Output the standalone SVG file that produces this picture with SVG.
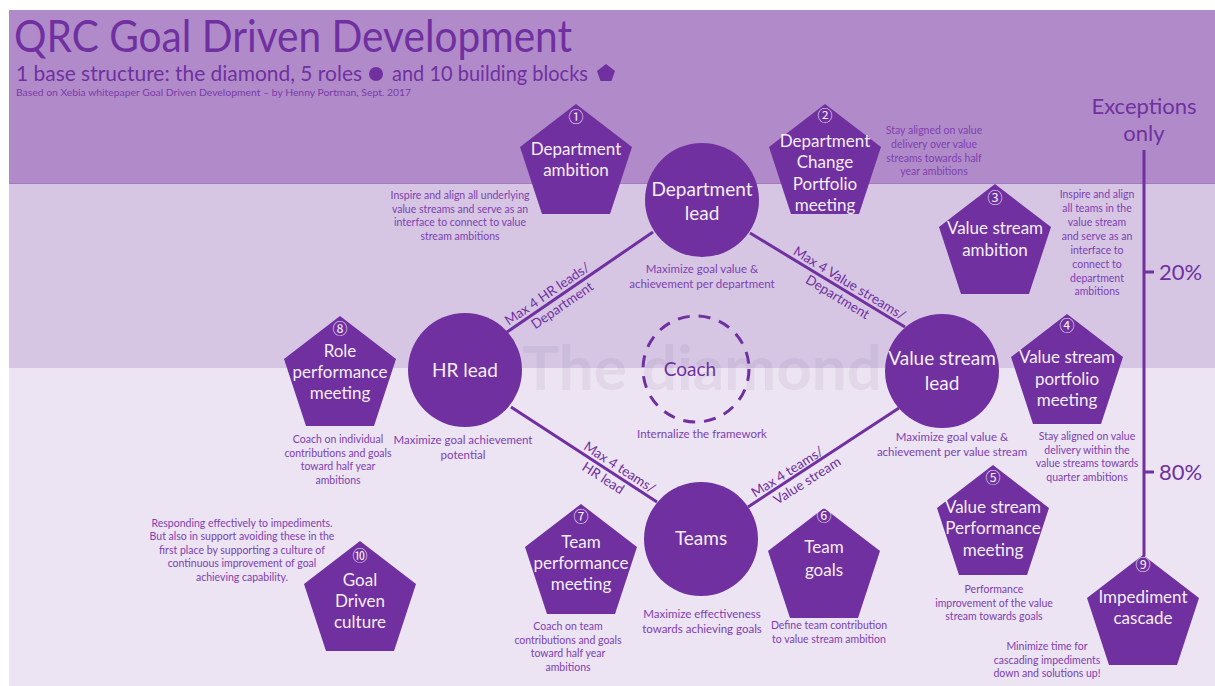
<svg xmlns="http://www.w3.org/2000/svg" xmlns:xlink="http://www.w3.org/1999/xlink" width="1215" height="686" viewBox="0 0 1215 686">
  <style>
    text { font-family: Lato, "Liberation Sans", "Noto Sans CJK SC", sans-serif; }
    .title { font-size: 44px; fill: #7030a0; }
    .sub { font-size: 22px; fill: #7030a0; }
    .credit { font-size: 10px; fill: #7a3aaa; }
    .shape { fill: #7030a0; }
    .lbl { font-size: 17px; fill: #f4eef8; text-anchor: middle; }
    .num { font-size: 15px; fill: #f4eef8; text-anchor: middle; font-family: "Noto Sans CJK SC", "DejaVu Sans", sans-serif; }
    .role { font-size: 19px; fill: #f4eef8; text-anchor: middle; }
    .d { font-size: 10.5px; fill: #7e3fb0; text-anchor: middle; }
    .rd { font-size: 11.5px; fill: #7e3fb0; text-anchor: middle; }
    .ln { stroke: #7030a0; stroke-width: 3; fill: none; }
    .ll { font-size: 13.5px; fill: #7030a0; text-anchor: middle; }
    .scale { font-size: 22px; fill: #7030a0; }
  </style>
  <defs>
    <path id="pent" d="M0,-60 L56,-17 L34,50 L-34,50 L-56,-17 Z"/>
  </defs>

  <!-- background bands -->
  <rect x="0" y="0" width="1215" height="686" fill="#ffffff"/>
  <rect x="9" y="10" width="1206" height="174" fill="#b18bc9"/>
  <rect x="9" y="184" width="1206" height="184" fill="#d6c6e4"/>
  <rect x="9" y="368" width="1206" height="318" fill="#ece3f3"/>
  <line x1="9" y1="183.5" x2="1215" y2="183.5" stroke="#a47abf" stroke-width="1"/>

  <!-- header -->
  <g id="header">
    <text class="title" x="14" y="52" textLength="558" lengthAdjust="spacingAndGlyphs">QRC Goal Driven Development</text>
    <text class="sub" x="16" y="81" textLength="346" lengthAdjust="spacingAndGlyphs">1 base structure: the diamond, 5 roles</text>
    <circle class="shape" cx="376" cy="74" r="7"/>
    <text class="sub" x="392" y="81" textLength="196" lengthAdjust="spacingAndGlyphs">and 10 building blocks</text>
    <path class="shape" d="M606,64 L615,71 L611.5,81 L600.5,81 L597,71 Z"/>
    <text class="credit" x="16" y="96" textLength="395" lengthAdjust="spacingAndGlyphs">Based on Xebia whitepaper Goal Driven Development – by Henny Portman, Sept. 2017</text>
  </g>

  <!-- watermark -->
  <text x="702" y="390" font-size="62" font-weight="bold" text-anchor="middle" fill="#5a3a78" fill-opacity="0.07">The diamond</text>

  <!-- connectors of the diamond -->
  <g id="connectors">
    <line class="ln" x1="507" y1="332" x2="653" y2="232"/>
    <line class="ln" x1="750" y1="233" x2="905" y2="327"/>
    <line class="ln" x1="511" y1="407" x2="657" y2="502"/>
    <line class="ln" x1="748" y1="507" x2="899" y2="408"/>
    <g transform="translate(552,301) rotate(-34.4)">
      <text class="ll" x="0" y="-4">Max 4 HR leads/</text>
      <text class="ll" x="6" y="14">Department</text>
    </g>
    <g transform="translate(845,290.5) rotate(31.2)">
      <text class="ll" x="0" y="-4">Max 4 Value streams/</text>
      <text class="ll" x="-3" y="14">Department</text>
    </g>
    <g transform="translate(615,474.5) rotate(33)">
      <text class="ll" x="0" y="-4">Max 4 teams/</text>
      <text class="ll" x="-8" y="14">HR lead</text>
    </g>
    <g transform="translate(797,476) rotate(-32.4)">
      <text class="ll" x="-6" y="-4">Max 4 teams/</text>
      <text class="ll" x="6" y="14">Value stream</text>
    </g>
  </g>

  <!-- escalation scale -->
  <g id="scale">
    <text class="scale" x="1144" y="114" text-anchor="middle">Exceptions</text>
    <text class="scale" x="1144" y="141" text-anchor="middle">only</text>
    <line class="ln" x1="1144" y1="150" x2="1144" y2="556"/>
    <line class="ln" x1="1144" y1="272" x2="1154" y2="272"/>
    <line class="ln" x1="1144" y1="472" x2="1154" y2="472"/>
    <text class="scale" x="1159" y="280">20%</text>
    <text class="scale" x="1159" y="480">80%</text>
  </g>

  <!-- roles -->
  <g id="department-lead">
    <circle class="shape" cx="702" cy="200" r="57"/>
    <text class="role" x="702" y="196">Department</text>
    <text class="role" x="702" y="220">lead</text>
    <text class="rd" x="702" y="273">Maximize goal value &amp;</text>
    <text class="rd" x="702" y="288">achievement per department</text>
  </g>
  <g id="hr-lead">
    <circle class="shape" cx="465" cy="370" r="57"/>
    <text class="role" x="465" y="377">HR lead</text>
    <text class="rd" x="463" y="444">Maximize goal achievement</text>
    <text class="rd" x="463" y="459">potential</text>
  </g>
  <g id="value-stream-lead">
    <circle class="shape" cx="942" cy="371" r="57"/>
    <text class="role" x="942" y="365">Value stream</text>
    <text class="role" x="942" y="390">lead</text>
    <text class="rd" x="952" y="441">Maximize goal value &amp;</text>
    <text class="rd" x="952" y="456">achievement per value stream</text>
  </g>
  <g id="teams">
    <circle class="shape" cx="701" cy="539" r="57"/>
    <text class="role" x="701" y="545">Teams</text>
    <text class="rd" x="702" y="618">Maximize effectiveness</text>
    <text class="rd" x="702" y="633">towards achieving goals</text>
  </g>
  <g id="coach">
    <circle cx="696" cy="369" r="53" fill="none" stroke="#7030a0" stroke-width="3" stroke-dasharray="12 9"/>
    <text x="690" y="376" font-size="19" fill="#7030a0" text-anchor="middle">Coach</text>
    <text class="rd" x="702" y="438">Internalize the framework</text>
  </g>

  <!-- building blocks -->
  <g id="block-1">
    <use xlink:href="#pent" class="shape" transform="translate(576,164)"/>
    <text class="num" x="576" y="122">①</text>
    <text class="lbl" x="576" y="155">Department</text>
    <text class="lbl" x="576" y="176">ambition</text>
    <text class="d" x="460" y="199">Inspire and align all underlying</text>
    <text class="d" x="460" y="212.5">value streams and serve as an</text>
    <text class="d" x="460" y="226">interface to connect to value</text>
    <text class="d" x="460" y="239.5">stream ambitions</text>
  </g>
  <g id="block-2">
    <use xlink:href="#pent" class="shape" transform="translate(825,164)"/>
    <text class="num" x="825" y="121">②</text>
    <text class="lbl" x="825" y="147">Department</text>
    <text class="lbl" x="825" y="168">Change</text>
    <text class="lbl" x="825" y="190">Portfolio</text>
    <text class="lbl" x="825" y="211">meeting</text>
    <text class="d" x="934" y="134">Stay aligned on value</text>
    <text class="d" x="934" y="148">delivery over value</text>
    <text class="d" x="934" y="162">streams towards half</text>
    <text class="d" x="934" y="175">year ambitions</text>
  </g>
  <g id="block-3">
    <use xlink:href="#pent" class="shape" transform="translate(995,244)"/>
    <text class="num" x="995" y="203">③</text>
    <text class="lbl" x="995" y="234">Value stream</text>
    <text class="lbl" x="995" y="256">ambition</text>
    <text class="d" x="1097" y="198">Inspire and align</text>
    <text class="d" x="1097" y="212">all teams in the</text>
    <text class="d" x="1097" y="226">value stream</text>
    <text class="d" x="1097" y="240">and serve as an</text>
    <text class="d" x="1097" y="254">interface to</text>
    <text class="d" x="1097" y="268">connect to</text>
    <text class="d" x="1097" y="282">department</text>
    <text class="d" x="1097" y="295">ambitions</text>
  </g>
  <g id="block-4">
    <use xlink:href="#pent" class="shape" transform="translate(1067,374)"/>
    <text class="num" x="1067" y="331">④</text>
    <text class="lbl" x="1067" y="363">Value stream</text>
    <text class="lbl" x="1067" y="385">portfolio</text>
    <text class="lbl" x="1067" y="406">meeting</text>
    <text class="d" x="1087" y="440">Stay aligned on value</text>
    <text class="d" x="1087" y="454">delivery within the</text>
    <text class="d" x="1087" y="467">value streams towards</text>
    <text class="d" x="1087" y="481">quarter ambitions</text>
  </g>
  <g id="block-5">
    <use xlink:href="#pent" class="shape" transform="translate(993,525)"/>
    <text class="num" x="993" y="483">⑤</text>
    <text class="lbl" x="993" y="513">Value stream</text>
    <text class="lbl" x="993" y="534">Performance</text>
    <text class="lbl" x="993" y="556">meeting</text>
    <text class="d" x="994" y="593">Performance</text>
    <text class="d" x="994" y="607">improvement of the value</text>
    <text class="d" x="994" y="620">stream towards goals</text>
  </g>
  <g id="block-6">
    <use xlink:href="#pent" class="shape" transform="translate(824,568)"/>
    <text class="num" x="824" y="521">⑥</text>
    <text class="lbl" x="824" y="553">Team</text>
    <text class="lbl" x="824" y="576">goals</text>
    <text class="d" x="829" y="629">Define team contribution</text>
    <text class="d" x="829" y="643">to value stream ambition</text>
  </g>
  <g id="block-7">
    <use xlink:href="#pent" class="shape" transform="translate(581,564)"/>
    <text class="num" x="581" y="522">⑦</text>
    <text class="lbl" x="581" y="548">Team</text>
    <text class="lbl" x="581" y="569">performance</text>
    <text class="lbl" x="581" y="590">meeting</text>
    <text class="d" x="568" y="630">Coach on team</text>
    <text class="d" x="568" y="644">contributions and goals</text>
    <text class="d" x="568" y="657">toward half year</text>
    <text class="d" x="568" y="671">ambitions</text>
  </g>
  <g id="block-8">
    <use xlink:href="#pent" class="shape" transform="translate(340,376)"/>
    <text class="num" x="340" y="334">⑧</text>
    <text class="lbl" x="340" y="357">Role</text>
    <text class="lbl" x="340" y="378">performance</text>
    <text class="lbl" x="340" y="399">meeting</text>
    <text class="d" x="338" y="443">Coach on individual</text>
    <text class="d" x="338" y="457">contributions and goals</text>
    <text class="d" x="338" y="470">toward half year</text>
    <text class="d" x="338" y="484">ambitions</text>
  </g>
  <g id="block-9">
    <use xlink:href="#pent" class="shape" transform="translate(1143,615)"/>
    <text class="num" x="1143" y="570">⑨</text>
    <text class="lbl" x="1143" y="603">Impediment</text>
    <text class="lbl" x="1143" y="624">cascade</text>
    <text class="d" x="1047" y="650">Minimize time for</text>
    <text class="d" x="1047" y="664">cascading impediments</text>
    <text class="d" x="1047" y="677">down and solutions up!</text>
  </g>
  <g id="block-10">
    <use xlink:href="#pent" class="shape" transform="translate(360,601)"/>
    <text class="num" x="360" y="561">⑩</text>
    <text class="lbl" x="360" y="586">Goal</text>
    <text class="lbl" x="360" y="607">Driven</text>
    <text class="lbl" x="360" y="628">culture</text>
    <text class="d" x="242" y="527">Responding effectively to impediments.</text>
    <text class="d" x="242" y="540">But also in support avoiding these in the</text>
    <text class="d" x="242" y="554">first place by supporting a culture of</text>
    <text class="d" x="242" y="567">continuous improvement of goal</text>
    <text class="d" x="242" y="581">achieving capability.</text>
  </g>
</svg>
